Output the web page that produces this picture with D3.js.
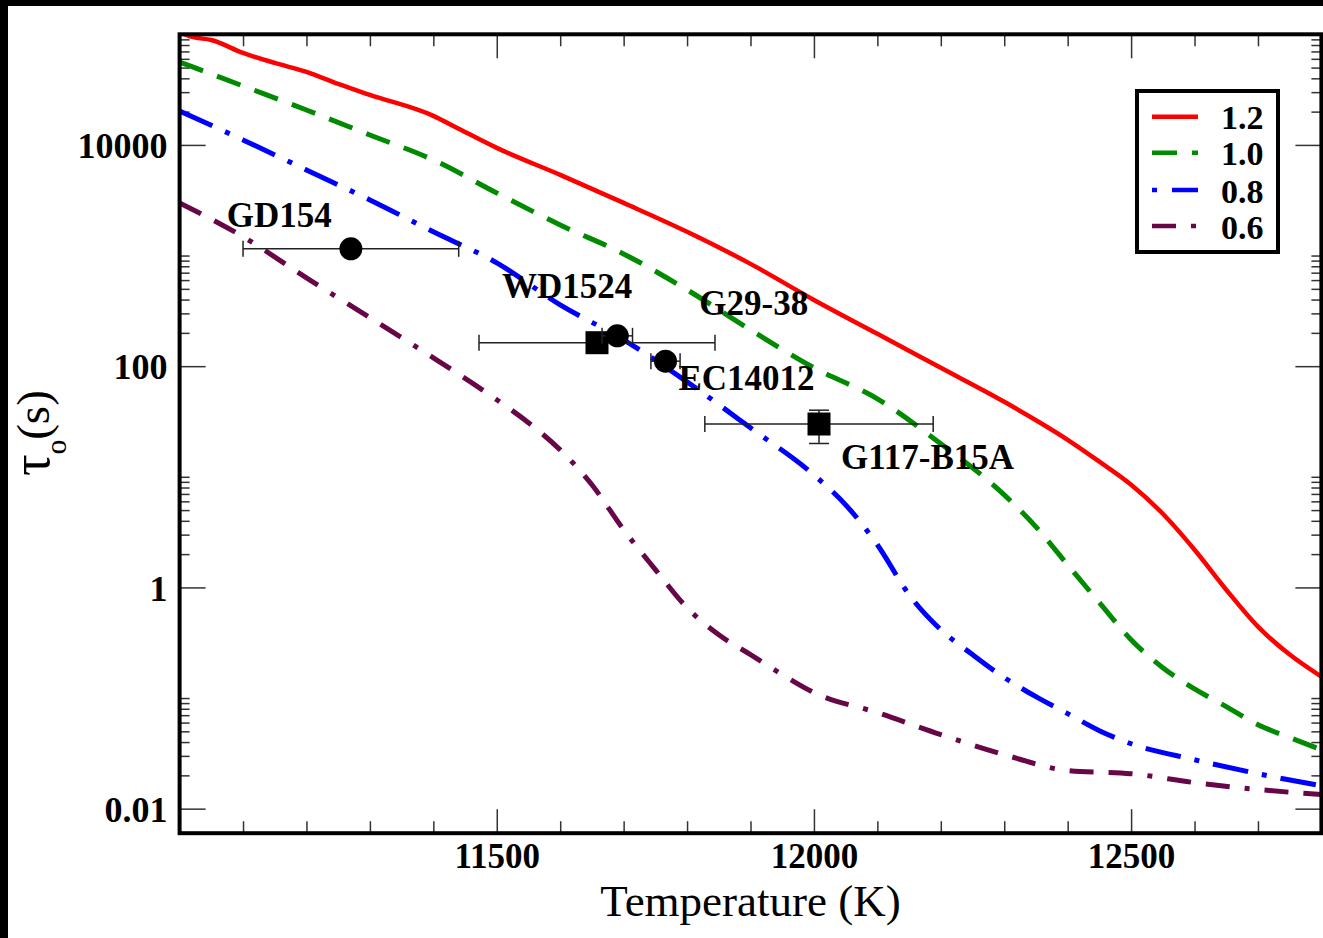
<!DOCTYPE html>
<html>
<head>
<meta charset="utf-8">
<script src="https://cdn.jsdelivr.net/npm/d3@7"></script>
<style>
  html, body { margin: 0; padding: 0; background: #fff; }
  svg { display: block; }
</style>
</head>
<body>
<svg id="chart" width="1323" height="938"></svg>
<script>
// ---------------- data ----------------
const seriesNames = ["1.2", "1.0", "0.8", "0.6"];
const seriesColors = ["#ff0000", "#008b00", "#0000ff", "#670748"];

const temp12 = [11000, 11020, 11050, 11100, 11150, 11200, 11250, 11300, 11400, 11440, 11500, 11600, 11700, 11800, 11900, 12000, 12100, 12200, 12300, 12400, 12450, 12500, 12550, 12600, 12650, 12700, 12750, 12800];
const tau12  = [105000, 94600, 88900, 67800, 55100, 45700, 35600, 28300, 18300, 14000, 9400, 5360, 2990, 1640, 841, 397, 196, 96.6, 47.6, 21.6, 13.7, 8.47, 4.63, 2.19, 0.953, 0.442, 0.247, 0.156];

const temp10 = [11000, 11100, 11200, 11300, 11400, 11500, 11600, 11700, 11800, 11900, 12000, 12100, 12200, 12300, 12350, 12400, 12450, 12500, 12550, 12600, 12650, 12700, 12750, 12800];
const tau10  = [56200, 34100, 20700, 12300, 7310, 3680, 1890, 1035, 490, 213, 96.6, 50.7, 19.9, 6.87, 3.53, 1.60, 0.728, 0.337, 0.188, 0.121, 0.0836, 0.0574, 0.0439, 0.0341];

const temp08 = [11000, 11100, 11200, 11300, 11400, 11500, 11600, 11700, 11800, 11900, 12000, 12050, 12100, 12150, 12200, 12250, 12300, 12350, 12400, 12450, 12500, 12600, 12700, 12800];
const tau08  = [20300, 11100, 5940, 3180, 1640, 859, 358, 173, 72.1, 27.7, 10.4, 5.58, 2.43, 0.859, 0.415, 0.247, 0.153, 0.103, 0.0723, 0.0507, 0.0386, 0.0277, 0.0207, 0.0161];

const temp06 = [11000, 11100, 11200, 11300, 11400, 11500, 11550, 11600, 11650, 11700, 11750, 11800, 11850, 11900, 11950, 12000, 12100, 12200, 12300, 12400, 12500, 12600, 12700, 12800];
const tau06  = [2990, 1480, 628, 274, 119, 49.7, 30.8, 17.5, 8.47, 3.32, 1.45, 0.655, 0.373, 0.247, 0.163, 0.112, 0.0738, 0.0467, 0.0308, 0.0221, 0.0207, 0.0172, 0.0149, 0.0134];

// observed stars
const obsNames   = ["GD154", "WD1524", "G29-38", "EC14012", "G117-B15A"];
const obsTemp    = [11270, 11658, 11690, 11766, 12008];
const obsTempErr = [170, 186, 24, 23, 180];
const obsTau     = [1150, 163, 188, 111, 30];
const obsTauLo   = [null, null, null, null, 20];
const obsTauHi   = [null, null, null, null, 40];
const obsShape   = ["circle", "square", "circle", "circle", "square"];

// ticks
const xMajorTicks = [11500, 12000, 12500];
const xMajorLabels = ["11500", "12000", "12500"];
const yMajorTicks = [0.01, 1, 100, 10000];
const yMajorLabels = ["0.01", "1", "100", "10000"];

// ---------------- layout ----------------
const svg = d3.select("#chart");
const X0 = 179.6, X1 = 1321.4, YT = 34.3, YB = 833.2;
const x = d3.scaleLinear().domain([11000, 12800]).range([X0, X1]);
const y = d3.scaleLog().domain([0.006, 100000]).range([YB, YT]);

// black edges of the original screenshot
svg.append("rect").attr("x", 0).attr("y", 0).attr("width", 1323).attr("height", 6).attr("fill", "#000");
svg.append("rect").attr("x", 0).attr("y", 0).attr("width", 8).attr("height", 938).attr("fill", "#000");

// clip
svg.append("defs").append("clipPath").attr("id", "clip")
  .append("rect").attr("x", X0).attr("y", YT).attr("width", X1 - X0).attr("height", YB - YT);

// minor tick values
const xMinor = d3.range(11100, 12800, 100).filter(v => !xMajorTicks.includes(v));
const yMinor = [];
[-2, 0, 2, 4].forEach(n => { for (let k = 2; k <= 10; k++) { const v = k * Math.pow(10, n); if (v > 0.006 && v < 100000) yMinor.push(v); } });

const tickColor = "#333";
const boldFont = "'Liberation Serif', 'Times New Roman', serif";

function styleAxis(g) {
  g.select(".domain").remove();
  g.selectAll(".tick line").attr("stroke", tickColor).attr("stroke-width", 1.5);
}

// bottom
svg.append("g").attr("transform", `translate(0,${YB})`)
  .call(d3.axisBottom(x).tickValues(xMajorTicks).tickFormat((d, i) => xMajorLabels[i]).tickSize(-24).tickPadding(0))
  .call(styleAxis)
  .call(g => g.selectAll("text").attr("y", 35).attr("dy", null)
    .attr("font-family", boldFont).attr("font-weight", "bold").attr("font-size", 35).attr("fill", "#000"));
svg.append("g").attr("transform", `translate(0,${YB})`)
  .call(d3.axisBottom(x).tickValues(xMinor).tickFormat("").tickSize(-12)).call(styleAxis);
// top
svg.append("g").attr("transform", `translate(0,${YT})`)
  .call(d3.axisTop(x).tickValues(xMajorTicks).tickFormat("").tickSize(-24)).call(styleAxis);
svg.append("g").attr("transform", `translate(0,${YT})`)
  .call(d3.axisTop(x).tickValues(xMinor).tickFormat("").tickSize(-12)).call(styleAxis);
// left
svg.append("g").attr("transform", `translate(${X0},0)`)
  .call(d3.axisLeft(y).tickValues(yMajorTicks).tickFormat((d, i) => yMajorLabels[i]).tickSize(-26).tickPadding(12))
  .call(styleAxis)
  .call(g => g.selectAll("text").attr("dy", "0.35em")
    .attr("font-family", boldFont).attr("font-weight", "bold").attr("font-size", 36).attr("fill", "#000"));
svg.append("g").attr("transform", `translate(${X0},0)`)
  .call(d3.axisLeft(y).tickValues(yMinor).tickFormat("").tickSize(-10)).call(styleAxis);
// right
svg.append("g").attr("transform", `translate(${X1},0)`)
  .call(d3.axisRight(y).tickValues(yMajorTicks).tickFormat("").tickSize(-26)).call(styleAxis);
svg.append("g").attr("transform", `translate(${X1},0)`)
  .call(d3.axisRight(y).tickValues(yMinor).tickFormat("").tickSize(-10)).call(styleAxis);

// ---------------- curves ----------------
const series = [
  { T: temp12, tau: tau12, dash: null, legendDash: null },
  { T: temp10, tau: tau10, dash: "25,15", legendDash: "25,15" },
  { T: temp08, tau: tau08, dash: "36,14,5,14", legendDash: "5,15,36,14" },
  { T: temp06, tau: tau06, dash: "24,15,24,15,5,15", legendDash: "24,15,5,15,24,15" }
];
const line = d3.line().x(d => x(d[0])).y(d => y(d[1])).curve(d3.curveMonotoneX);
const curves = svg.append("g").attr("clip-path", "url(#clip)");
series.forEach((s, i) => {
  const pts = s.T.map((t, j) => [t, s.tau[j]]);
  curves.append("path").datum(pts).attr("d", line)
    .attr("fill", "none").attr("stroke", seriesColors[i])
    .attr("stroke-width", i === 0 ? 4.5 : 5)
    .attr("stroke-dasharray", s.dash);
});

// ---------------- observations ----------------
const obs = svg.append("g");
const capH = 8;
obsNames.forEach((name, i) => {
  const cx = x(obsTemp[i]), cy = y(obsTau[i]);
  const xl = x(obsTemp[i] - obsTempErr[i]), xr = x(obsTemp[i] + obsTempErr[i]);
  const eb = obs.append("g").attr("stroke", "#222").attr("stroke-width", 1.5);
  eb.append("line").attr("x1", xl).attr("x2", xr).attr("y1", cy).attr("y2", cy);
  eb.append("line").attr("x1", xl).attr("x2", xl).attr("y1", cy - capH).attr("y2", cy + capH);
  eb.append("line").attr("x1", xr).attr("x2", xr).attr("y1", cy - capH).attr("y2", cy + capH);
  if (obsTauLo[i] != null) {
    const yl = y(obsTauLo[i]), yh = y(obsTauHi[i]);
    eb.append("line").attr("x1", cx).attr("x2", cx).attr("y1", yl).attr("y2", yh);
    eb.append("line").attr("x1", cx - 10).attr("x2", cx + 10).attr("y1", yl).attr("y2", yl);
    eb.append("line").attr("x1", cx - 10).attr("x2", cx + 10).attr("y1", yh).attr("y2", yh);
  }
  if (obsShape[i] === "circle") {
    obs.append("circle").attr("cx", cx).attr("cy", cy).attr("r", 11.5).attr("fill", "#000");
  } else {
    obs.append("rect").attr("x", cx - 11.5).attr("y", cy - 11.5).attr("width", 23).attr("height", 23).attr("fill", "#000");
  }
});
// labels (offsets from each star's marker)
const labelOffsets = [[-124, -21.5], [-95, -45], [82, -21], [13, 28.5], [22, 45]];
obsNames.forEach((name, i) => {
  svg.append("text").attr("x", x(obsTemp[i]) + labelOffsets[i][0]).attr("y", y(obsTau[i]) + labelOffsets[i][1])
    .attr("font-family", boldFont).attr("font-weight", "bold").attr("font-size", 35).attr("fill", "#000")
    .text(name);
});

// ---------------- frame ----------------
svg.append("rect").attr("x", X0).attr("y", YT).attr("width", X1 - X0).attr("height", YB - YT)
  .attr("fill", "none").attr("stroke", "#000").attr("stroke-width", 4);

// ---------------- legend ----------------
const lg = svg.append("g");
lg.append("rect").attr("x", 1137).attr("y", 91).attr("width", 141).attr("height", 161)
  .attr("fill", "#fff").attr("stroke", "#000").attr("stroke-width", 4);
const legendRows = [116.7, 152.7, 190, 226];
series.forEach((s, i) => {
  lg.append("line").attr("x1", 1152).attr("x2", 1198).attr("y1", legendRows[i]).attr("y2", legendRows[i])
    .attr("stroke", seriesColors[i]).attr("stroke-width", 4.5).attr("stroke-dasharray", s.legendDash);
  lg.append("text").attr("x", 1221).attr("y", legendRows[i] + 12.5)
    .attr("font-family", boldFont).attr("font-weight", "bold").attr("font-size", 34).attr("fill", "#000")
    .text(seriesNames[i]);
});

// ---------------- axis titles ----------------
svg.append("text").attr("x", (X0 + X1) / 2).attr("y", 916).attr("text-anchor", "middle")
  .attr("font-family", boldFont).attr("font-size", 45).attr("fill", "#000")
  .text("Temperature (K)");

const yt = svg.append("text").attr("transform", "translate(49,476) rotate(-90)")
  .attr("font-family", boldFont).attr("font-size", 47).attr("fill", "#000");
yt.append("tspan").attr("font-size", 54).text("τ");
yt.append("tspan").attr("font-size", 29).attr("dy", 17).text("o");
yt.append("tspan").attr("dy", -17).text("(s)");
</script>
</body>
</html>
